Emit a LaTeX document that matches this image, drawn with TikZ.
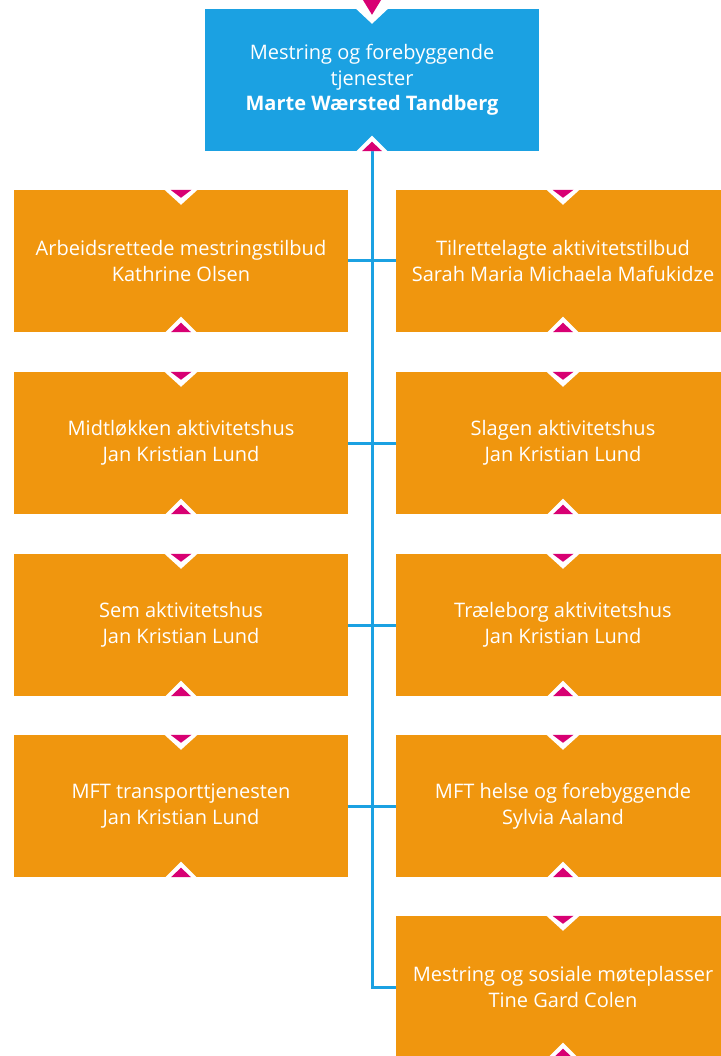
\documentclass[tikz,border=0pt]{standalone}
\usepackage{fontspec}
\setmainfont{Open Sans}
\definecolor{topblue}{HTML}{1BA1E2}
\definecolor{boxorange}{HTML}{F0960E}
\definecolor{markpink}{HTML}{D80073}
\begin{document}
\begin{tikzpicture}[x=1pt,y=-1pt,
  box/.style={rectangle, fill=boxorange, minimum width=334pt, minimum height=142pt, inner sep=0pt,
    text=white, align=center, font=\fontsize{20}{25.5}\selectfont},
  topbox/.style={box, fill=topblue},
  link/.style={draw=topblue, line width=3pt}]
\useasboundingbox (0,0) rectangle (720,1056);
% top box
\node[topbox] (top) at (372,80) {Mestring og forebyggende\\tjenester\\\textbf{Marte Wærsted Tandberg}};
% left column
\node[box] (L1) at (181,261) {Arbeidsrettede mestringstilbud\\Kathrine Olsen};
\node[box] (L2) at (181,443) {Midtløkken aktivitetshus\\Jan Kristian Lund};
\node[box] (L3) at (181,625) {Sem aktivitetshus\\Jan Kristian Lund};
\node[box] (L4) at (181,806) {MFT transporttjenesten\\Jan Kristian Lund};
% right column
\node[box] (R1) at (563,261) {Tilrettelagte aktivitetstilbud\\Sarah Maria Michaela Mafukidze};
\node[box] (R2) at (563,443) {Slagen aktivitetshus\\Jan Kristian Lund};
\node[box] (R3) at (563,625) {Træleborg aktivitetshus\\Jan Kristian Lund};
\node[box] (R4) at (563,806) {MFT helse og forebyggende\\Sylvia Aaland};
\node[box] (R5) at (563,987) {Mestring og sosiale møteplasser\\Tine Gard Colen};
% connectors
\draw[link] (top.south) |- (R5.west);
\foreach \i in {1,...,4} {\draw[link] (L\i.east) -- (R\i.west);}
% markers
\foreach \n in {L1,L2,L3,L4,R1,R2,R3,R4,R5} {
  \fill[white] ([xshift=-16.5pt]\n.north) -- ([xshift=16.5pt]\n.north) -- ([yshift=-15pt]\n.north) -- cycle;
  \fill[markpink] ([xshift=-10.5pt]\n.north) -- ([xshift=10.5pt]\n.north) -- ([yshift=-8pt]\n.north) -- cycle;
}
\foreach \n in {top,L1,L2,L3,L4,R1,R2,R3,R4,R5} {
  \fill[white] ([xshift=-15.5pt]\n.south) -- ([xshift=15.5pt]\n.south) -- ([yshift=15.5pt]\n.south) -- cycle;
  \fill[markpink] ([xshift=-10pt]\n.south) -- ([xshift=10pt]\n.south) -- ([yshift=9.5pt]\n.south) -- cycle;
}
% top box upper marker
\fill[white] ([xshift=-16pt]top.north) -- ([xshift=16pt]top.north) -- ([yshift=-15pt]top.north) -- cycle;
\fill[markpink] ([xshift=-11pt,yshift=12pt]top.north) -- ([xshift=11pt,yshift=12pt]top.north) -- ([yshift=-6pt]top.north) -- cycle;
\end{tikzpicture}
\end{document}
